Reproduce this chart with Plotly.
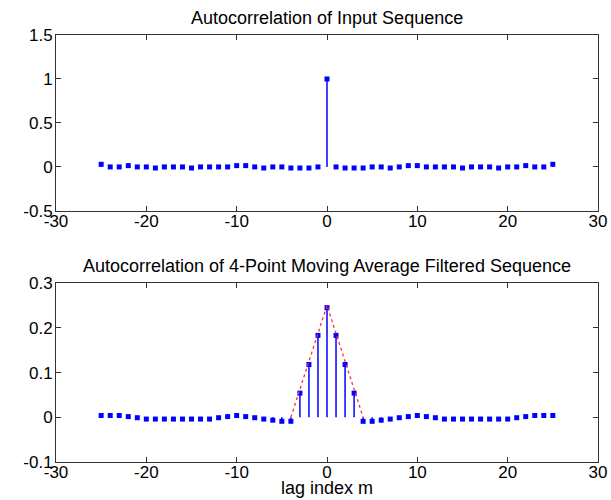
import plotly.graph_objects as go

lags = list(range(-25, 26))

top_vals = [0.03, 0.0, 0.0, 0.015, 0.0, 0.0, -0.012, 0.0, 0.0, 0.0, -0.012, 0.0, 0.0,
            0.0, 0.0, 0.015, 0.015, 0.0, -0.012, 0.0, 0.0, -0.012, -0.012, -0.012, 0.0,
            1.0,
            0.0, -0.012, -0.012, -0.012, 0.0, 0.0, -0.012, 0.0, 0.015, 0.015, 0.0, 0.0,
            0.0, 0.0, -0.012, 0.0, 0.0, 0.0, -0.012, 0.0, 0.0, 0.015, 0.0, 0.0, 0.03]

bot_vals = [0.004, 0.004, 0.004, 0.0015, -0.001, -0.004, -0.004, -0.004, -0.004, -0.004,
            -0.004, -0.004, -0.004, -0.001, 0.0015, 0.004, 0.0015, -0.001, -0.004, -0.0065,
            -0.009, -0.009, 0.054, 0.118, 0.183,
            0.245,
            0.183, 0.118, 0.054, -0.009, -0.009, -0.0065, -0.004, -0.001, 0.0015, 0.004,
            0.0015, -0.001, -0.004, -0.004, -0.004, -0.004, -0.004, -0.004, -0.004, -0.004,
            -0.001, 0.0015, 0.004, 0.004, 0.004]

tri_x = [-4, 0, 4]
tri_y = [0, 0.25, 0]

x_ticks = [-30, -20, -10, 0, 10, 20, 30]
x_labels = ["-30", "-20", "-10", "0", "10", "20", "30"]
y1_ticks = [-0.5, 0, 0.5, 1, 1.5]
y1_labels = ["-0.5", "0", "0.5", "1", "1.5"]
y2_ticks = [-0.1, 0, 0.1, 0.2, 0.3]
y2_labels = ["-0.1", "0", "0.1", "0.2", "0.3"]

title_top = "Autocorrelation of Input Sequence"
title_bot = "Autocorrelation of 4-Point Moving Average Filtered Sequence"
xlabel_bot = "lag index m"

BLUE = "#0000ff"
FONT = "Liberation Sans"


def stems(xs, ys):
    sx, sy = [], []
    for x, y in zip(xs, ys):
        sx += [x, x, None]
        sy += [0, y, None]
    return sx, sy


fig = go.Figure()

for vals, xa, ya in [(top_vals, "x", "y"), (bot_vals, "x2", "y2")]:
    sx, sy = stems(lags, vals)
    fig.add_trace(go.Scatter(x=sx, y=sy, mode="lines", line=dict(color=BLUE, width=1.5),
                             xaxis=xa, yaxis=ya, showlegend=False, hoverinfo="skip"))
    fig.add_trace(go.Scatter(x=lags, y=vals, mode="markers",
                             marker=dict(color=BLUE, size=5, symbol="square", line=dict(width=0)),
                             xaxis=xa, yaxis=ya, showlegend=False))

fig.add_trace(go.Scatter(x=tri_x, y=tri_y, mode="lines",
                         line=dict(color="#ff3030", width=1.3, dash="dot"),
                         xaxis="x2", yaxis="y2", showlegend=False))

axis_common = dict(showline=True, mirror="ticks", linecolor="#333333", linewidth=1,
                   ticks="inside", ticklen=5, tickcolor="#333333", showgrid=False,
                   zeroline=False, automargin=False,
                   tickfont=dict(family=FONT, size=17, color="black"))

xaxis_extra = dict(ticklabelstandoff=-5)
yaxis_extra = dict(ticklabelstandoff=-1)

fig.update_layout(
    width=611, height=500,
    margin=dict(l=56, r=13, t=35, b=38),
    paper_bgcolor="white", plot_bgcolor="white",
    xaxis=dict(domain=[0, 1], range=[-30, 30], tickvals=x_ticks, ticktext=x_labels,
               anchor="y", **axis_common, **xaxis_extra),
    yaxis=dict(domain=[0.588, 1], range=[-0.5, 1.5], tickvals=y1_ticks, ticktext=y1_labels,
               anchor="x", **axis_common, **yaxis_extra),
    xaxis2=dict(domain=[0, 1], range=[-30, 30], tickvals=x_ticks, ticktext=x_labels,
                anchor="y2", **axis_common, **xaxis_extra),
    yaxis2=dict(domain=[0, 0.419], range=[-0.1, 0.3], tickvals=y2_ticks, ticktext=y2_labels,
                anchor="x2", **axis_common, **yaxis_extra),
    annotations=[
        dict(text=title_top, xref="paper", yref="paper", x=0.5, y=1.0398,
             xanchor="center", yanchor="middle", showarrow=False,
             font=dict(family=FONT, size=18, color="black")),
        dict(text=title_bot, xref="paper", yref="paper", x=0.5, y=0.459,
             xanchor="center", yanchor="middle", showarrow=False,
             font=dict(family=FONT, size=18, color="black")),
        dict(text=xlabel_bot, xref="paper", yref="paper", x=0.5, y=-0.061,
             xanchor="center", yanchor="middle", showarrow=False,
             font=dict(family=FONT, size=18, color="black")),
    ],
)

fig.write_html("out.html", config={"displayModeBar": False},
               post_script="document.body.style.margin='0';document.body.style.overflow='hidden';")
